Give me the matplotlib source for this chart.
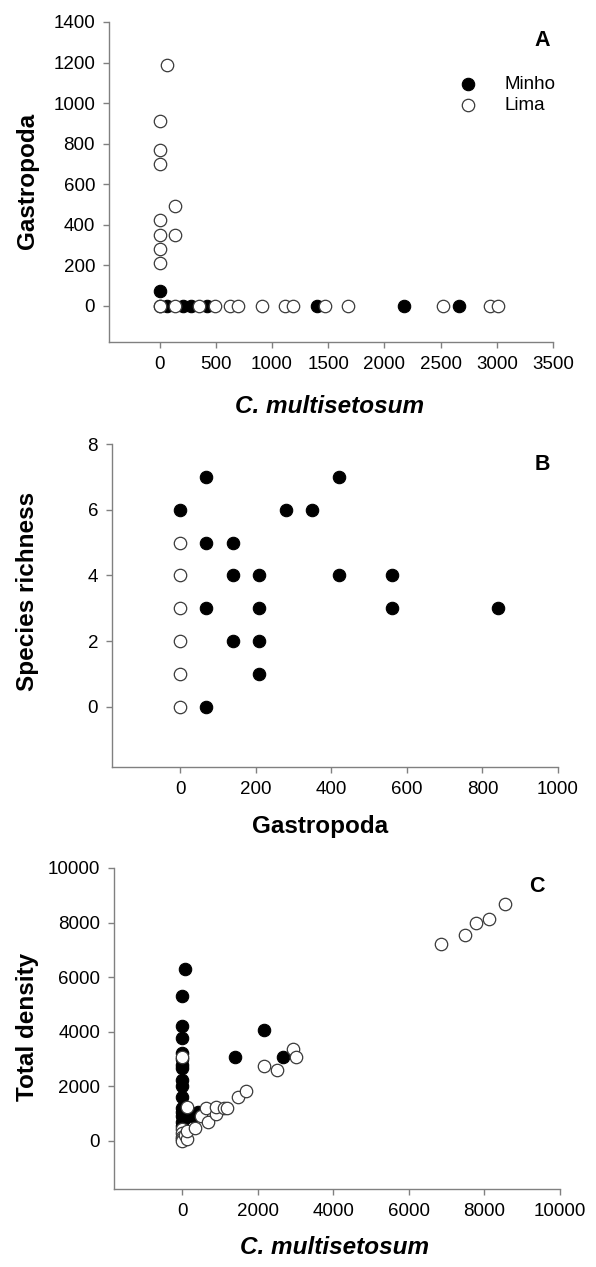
import matplotlib
matplotlib.use("Agg")
import matplotlib.pyplot as plt
import numpy as np

plt.rcParams["font.family"] = ["Liberation Sans", "DejaVu Sans"]

# --- panel A : C. multisetosum vs Gastropoda
a_minho_x = [0, 0, 70, 210, 280, 420, 1400, 2170, 2660]
a_minho_y = [70, 0, 0, 0, 0, 0, 0, 0, 0]
a_lima_x = [0, 0, 0, 0, 0, 0, 0, 0, 70, 140, 140, 140, 350, 490, 630, 700,
            910, 1120, 1190, 1470, 1680, 2520, 2940, 3010]
a_lima_y = [0, 210, 280, 350, 420, 700, 770, 910, 1190, 490, 350, 0, 0, 0, 0, 0,
            0, 0, 0, 0, 0, 0, 0, 0]

# --- panel B : Gastropoda vs species richness
b_minho_x = [0, 70, 70, 70, 70, 140, 140, 140, 210, 210, 210, 210,
             280, 350, 420, 420, 560, 560, 840]
b_minho_y = [6, 7, 5, 3, 0, 5, 4, 2, 4, 3, 2, 1, 6, 6, 7, 4, 4, 3, 3]
b_lima_x = [0, 0, 0, 0, 0, 0]
b_lima_y = [5, 4, 3, 2, 1, 0]

# --- panel C : C. multisetosum vs total density
c_minho_x = [70, 0, 0, 0, 0, 0, 0, 0, 0, 0, 0, 0, 0, 0, 70, 0, 0,
             210, 280, 420, 140, 1400, 2170, 2660]
c_minho_y = [6300, 5320, 4200, 3780, 3220, 3010, 2800, 2660, 2240, 2030, 1610,
             1190, 1050, 910, 840, 700, 560, 980, 910, 1050, 1120, 3080, 4060, 3080]
c_lima_x = [0, 140, 490, 630, 700, 910, 910, 1120, 1190, 1470, 1680, 2170,
            2520, 2940, 3010, 6860, 7490, 7770, 8120, 8540,
            0, 0, 0, 0, 0, 70, 140, 140, 350]
c_lima_y = [3080, 1260, 910, 1190, 700, 980, 1260, 1190, 1190, 1610, 1820, 2730,
            2590, 3360, 3080, 7210, 7560, 7980, 8120, 8680,
            420, 280, 140, 70, 0, 210, 70, 350, 490]

W, H = 596, 1267
fig = plt.figure(figsize=(W / 100, H / 100), dpi=100)


def make_ax(left, right, top, bottom):
    return fig.add_axes([left / W, 1 - bottom / H, (right - left) / W, (bottom - top) / H])


def style(ax, xlim, ylim, xticks, yticks):
    ax.set_xlim(*xlim)
    ax.set_ylim(*ylim)
    ax.set_xticks(xticks)
    ax.set_yticks(yticks)
    for s in ["top", "right"]:
        ax.spines[s].set_visible(False)
    for s in ["left", "bottom"]:
        ax.spines[s].set_color("#808080")
        ax.spines[s].set_linewidth(1.0)
    ax.tick_params(length=4, width=1.0, color="#808080", labelsize=13.5, pad=6)


def draw(ax, mx, my, lx, ly):
    ax.scatter(mx, my, s=80, facecolor="black", edgecolor="black", linewidths=0.8,
               zorder=3, label="Minho", clip_on=False)
    ax.scatter(lx, ly, s=80, facecolor="white", edgecolor="#3a3a3a", linewidths=0.9,
               zorder=4, label="Lima", clip_on=False)


def ftext(x, y, s, **kw):
    # position in figure pixels, measured from the top left
    fig.text(x / W, 1 - y / H, s, ha="center", va="center", **kw)


lab = dict(fontsize=17.5, fontweight="bold")

# A
axA = make_ax(109, 553, 22, 342)
draw(axA, a_minho_x, a_minho_y, a_lima_x, a_lima_y)
style(axA, (-450, 3500), (-180, 1400), np.arange(0, 3501, 500), np.arange(0, 1401, 200))
axA.legend(loc="upper left", bbox_to_anchor=(459 / W, 1 - 76 / H), bbox_transform=fig.transFigure,
           frameon=False, fontsize=13.5, handlelength=1.0, handletextpad=1.4,
           labelspacing=0.22, borderaxespad=0, borderpad=0)
ftext(28, 181, "Gastropoda", rotation=90, **lab)
ftext(542, 41, "A", fontsize=15.5, fontweight="bold")
ftext(330, 406, "C. multisetosum", fontstyle="italic", **lab)

# B
axB = make_ax(112, 558, 444, 767)
draw(axB, b_minho_x, b_minho_y, b_lima_x, b_lima_y)
style(axB, (-180, 1000), (-1.83, 8), np.arange(0, 1001, 200), np.arange(0, 9, 2))
ftext(28, 591, "Species richness", rotation=90, **lab)
ftext(542, 464, "B", fontsize=15.5, fontweight="bold")
ftext(320, 827, "Gastropoda", **lab)

# C
axC = make_ax(114, 560, 868, 1189)
draw(axC, c_minho_x, c_minho_y, c_lima_x, c_lima_y)
style(axC, (-1800, 10000), (-1760, 10000), np.arange(0, 10001, 2000), np.arange(0, 10001, 2000))
ftext(28, 1027, "Total density", rotation=90, **lab)
ftext(537, 887, "C", fontsize=15.5, fontweight="bold")
ftext(335, 1248, "C. multisetosum", fontstyle="italic", **lab)

fig.savefig("out.png", dpi=100)
